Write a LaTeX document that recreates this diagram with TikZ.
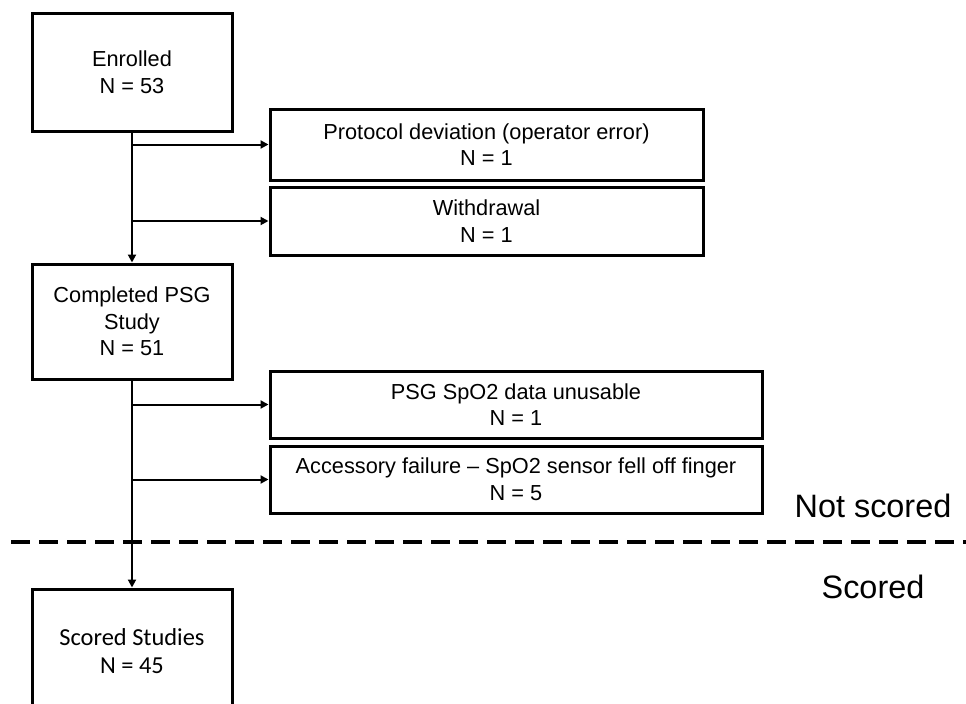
\documentclass[tikz,border=0pt]{standalone}
\usepackage{fontspec}
\setmainfont{Liberation Sans}
\newfontfamily\calibrifont{Carlito}
\usetikzlibrary{arrows.meta}
\begin{document}
\begin{tikzpicture}[x=0.75pt,y=-0.75pt,
  box/.style={draw, line width=2.25pt, align=center, inner sep=0pt,
    font=\fontsize{16.3}{20}\selectfont},
  conn/.style={line width=1.5pt, -{Triangle[length=6pt,width=6pt]}},
  sep/.style={line width=3pt, dash pattern=on 14pt off 7pt},
  zonelabel/.style={font=\fontsize{24.3}{28}\selectfont, inner sep=0pt}]
\useasboundingbox (0,0) rectangle (966,703);
\clip (0,0) rectangle (966,703);
\node[box, minimum width=150pt, minimum height=88.5pt] (enrolled) at (132,72) {Enrolled\\N = 53};
\node[box, minimum width=324.75pt, minimum height=53.25pt] (protocol) at (486.5,144.5) {Protocol deviation (operator error)\\N = 1};
\node[box, minimum width=324.75pt, minimum height=51pt] (withdrawal) at (486.5,221) {Withdrawal\\N = 1};
\node[box, minimum width=150pt, minimum height=86.25pt] (completed) at (132,321.5) {Completed PSG\\Study\\N = 51};
\node[box, minimum width=369pt, minimum height=50.25pt] (psg) at (516,404.5) {PSG SpO2 data unusable\\N = 1};
\node[box, minimum width=369pt, minimum height=50.25pt] (accessory) at (516,479.5) {Accessory failure – SpO2 sensor fell off finger\\N = 5};
\node[box, minimum width=150pt, minimum height=93pt, font=\calibrifont\fontsize{18.3}{21.5}\selectfont] (scored) at (132,651) {Scored Studies\\N = 45};
\node[zonelabel] (notscored) at (873,506) {Not scored};
\node[zonelabel] (scoredlabel) at (873,587) {Scored};
\coordinate (sepL) at (11,542);
\coordinate (sepR) at (975,542);
\draw[sep] (sepL) -- (sepR);
\draw[conn] (enrolled.south) -- (completed.north);
\draw[conn] (enrolled.south |- protocol.west) -- (protocol.west);
\draw[conn] (enrolled.south |- withdrawal.west) -- (withdrawal.west);
\draw[conn] (completed.south) -- (scored.north);
\draw[conn] (completed.south |- psg.west) -- (psg.west);
\draw[conn] (completed.south |- accessory.west) -- (accessory.west);
\end{tikzpicture}
\end{document}
